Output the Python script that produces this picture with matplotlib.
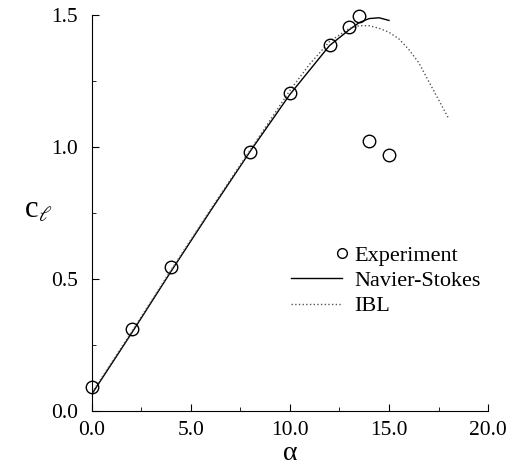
import numpy as np
import matplotlib.pyplot as plt

plt.rcParams['font.family'] = 'Liberation Serif'
plt.rcParams['mathtext.fontset'] = 'stix'

# experiment
alpha_exp = [0.0, 2.0, 4.0, 8.0, 10.0, 12.0, 13.0, 13.5, 14.0, 15.0]
cl_exp = [0.09, 0.31, 0.545, 0.98, 1.205, 1.385, 1.455, 1.495, 1.025, 0.97]

# Navier-Stokes
alpha_ns = [0.0, 2.0, 4.0, 6.0, 8.0, 10.0, 12.0, 13.0, 13.5, 14.0, 14.5, 15.0]
cl_ns = [0.065, 0.295, 0.53, 0.76, 0.985, 1.20, 1.385, 1.445, 1.472, 1.487, 1.49, 1.48]

# IBL
alpha_ibl = [0.0, 2.0, 4.0, 6.0, 8.0, 10.0, 11.0, 12.0, 13.0, 13.5, 14.0, 14.5,
             15.0, 15.5, 16.0, 16.5, 17.0, 17.5, 18.0]
cl_ibl = [0.07, 0.30, 0.535, 0.765, 0.99, 1.215, 1.315, 1.40, 1.45, 1.46, 1.46, 1.45,
          1.435, 1.41, 1.37, 1.32, 1.25, 1.18, 1.11]

fig = plt.figure(figsize=(5.11, 4.73), dpi=100)
ax = fig.add_axes([0.180, 0.131, 0.775, 0.837])

ax.plot(alpha_exp, cl_exp, 'o', mfc='none', mec='black', ms=9, mew=1.0,
        label='Experiment', clip_on=False, zorder=3)
ax.plot(alpha_ns, cl_ns, '-', color='black', lw=1.0, label='Navier-Stokes')
ax.plot(alpha_ibl, cl_ibl, ':', color='#555555', lw=1.0, label='IBL')

ax.set_xlim(0, 20)
ax.set_ylim(0, 1.5)
ax.set_xticks([0, 5, 10, 15, 20])
ax.set_xticklabels(['0.0', '5.0', '10.0', '15.0', '20.0'])
ax.set_yticks([0, 0.5, 1.0, 1.5])
ax.set_yticklabels(['0.0', '0.5', '1.0', '1.5'])
ax.set_xticks(np.arange(0, 20.1, 2.5), minor=True)
ax.set_yticks(np.arange(0, 1.51, 0.25), minor=True)
ax.tick_params(which='both', direction='in', labelsize=15.5)
ax.tick_params(which='major', length=5)
ax.tick_params(which='minor', length=3)
ax.tick_params(axis='x', pad=7)
ax.tick_params(axis='y', pad=10)
ax.spines['top'].set_visible(False)
ax.spines['right'].set_visible(False)

ax.set_xlabel('α', fontsize=20, labelpad=1)
ax.set_ylabel(r'c$_\ell$', fontsize=22, rotation=0)
ax.yaxis.set_label_coords(-0.135, 0.47)

leg = ax.legend(loc='upper left', bbox_to_anchor=(0.452, 0.47), frameon=False,
                fontsize=16, handlelength=2.3, handletextpad=0.55,
                labelspacing=0.22, numpoints=1)
leg.legend_handles[0].set_markevery([2])
leg.legend_handles[0].set_markersize(7)

fig.savefig('out.png', dpi=100)
